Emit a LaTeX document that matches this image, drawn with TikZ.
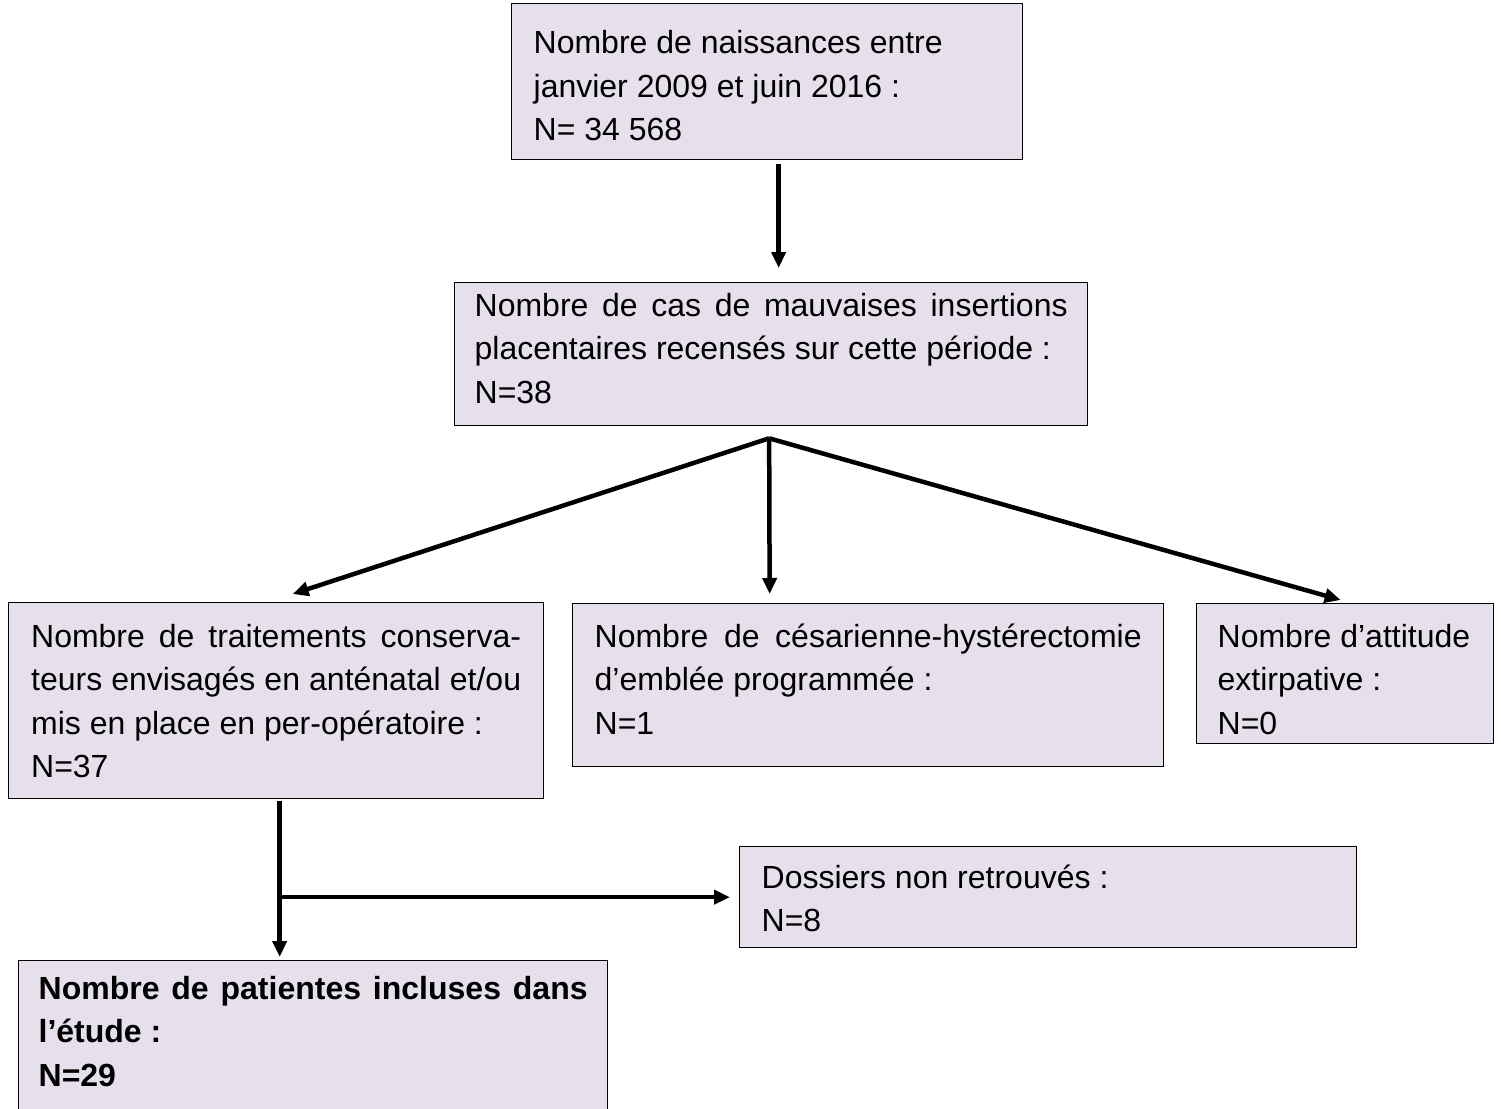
\documentclass[tikz,border=0pt]{standalone}
\usepackage{fontspec}
\setmainfont{Liberation Sans}
\usepackage{color}
\definecolor{mylavender}{RGB}{229,224,236}
\usepackage{tikz}
\usetikzlibrary{arrows.meta,positioning,calc}
\tikzstyle{box}=[draw=black,line width=1.3pt,fill=mylavender,anchor=north west,inner ysep=0pt,align=justify,font=\fontsize{32}{43.5}\selectfont]
\tikzstyle{arrow}=[line width=4.5pt,-{Triangle[length=16pt,width=14pt]}]

\begin{document}
\begin{tikzpicture}[x=1pt,y=-1pt]
\useasboundingbox (0,0) rectangle (1501,1108);
\node [box,text width=467pt,inner xsep=22pt,text height=50pt,text depth=106pt] (naiss) at (511,3)
  {Nombre de naissances entre\\janvier 2009 et juin 2016 :\\N= 34 568};
\node [box,text width=593pt,inner xsep=20pt,text height=33.5pt,text depth=109.5pt] (cas) at (454,282)
  {Nombre de cas de mauvaises insertions\linebreak placentaires recensés sur cette période :\\N=38};
\node [box,text width=490pt,inner xsep=22.5pt,text height=44.5pt,text depth=151.5pt] (cons) at (8,602)
  {Nombre de traitements conserva-\linebreak teurs envisagés en anténatal et/ou\linebreak mis en place en per-opératoire :\\N=37};
\node [box,text width=547pt,inner xsep=22pt,text height=43.5pt,text depth=119.5pt] (ces) at (572,603)
  {Nombre de césarienne-hystérectomie\linebreak d’emblée programmée :\\N=1};
\node [box,text width=255pt,inner xsep=21pt,text height=43.5pt,text depth=96.5pt] (extir) at (1196,603)
  {Nombre d’attitude\\extirpative :\\N=0};
\node [box,text width=573pt,inner xsep=22pt,text height=41.5pt,text depth=59.5pt] (doss) at (739,846)
  {Dossiers non retrouvés :\\N=8};
\node [box,text width=549pt,inner xsep=20pt,text height=38.5pt,text depth=113.5pt,font=\fontsize{32}{43.5}\selectfont\bfseries] (incl) at (18,960)
  {Nombre de patientes incluses dans\linebreak l’étude :\\N=29};

\draw [arrow] ([xshift=11.5pt,yshift=-4pt]naiss.south) -- ([xshift=7.5pt,yshift=14pt]cas.north);
\coordinate (fork) at ([xshift=-2pt,yshift=-12pt]cas.south);
\draw [arrow] (fork) -- ([xshift=16.5pt,yshift=8pt]cons.north);
\draw [arrow] (fork) -- ([xshift=-98.5pt,yshift=9pt]ces.north);
\draw [arrow] (fork) -- ([xshift=-4.5pt,yshift=3pt]extir.north);
\coordinate (trunk) at ([xshift=3.5pt,yshift=-2pt]cons.south);
\draw [arrow] (trunk) -- ([xshift=-33.5pt,yshift=3pt]incl.north);
\draw [arrow] ([xshift=-2pt]trunk |- doss.west) -- ([xshift=-9pt]doss.west);
\end{tikzpicture}
\end{document}
